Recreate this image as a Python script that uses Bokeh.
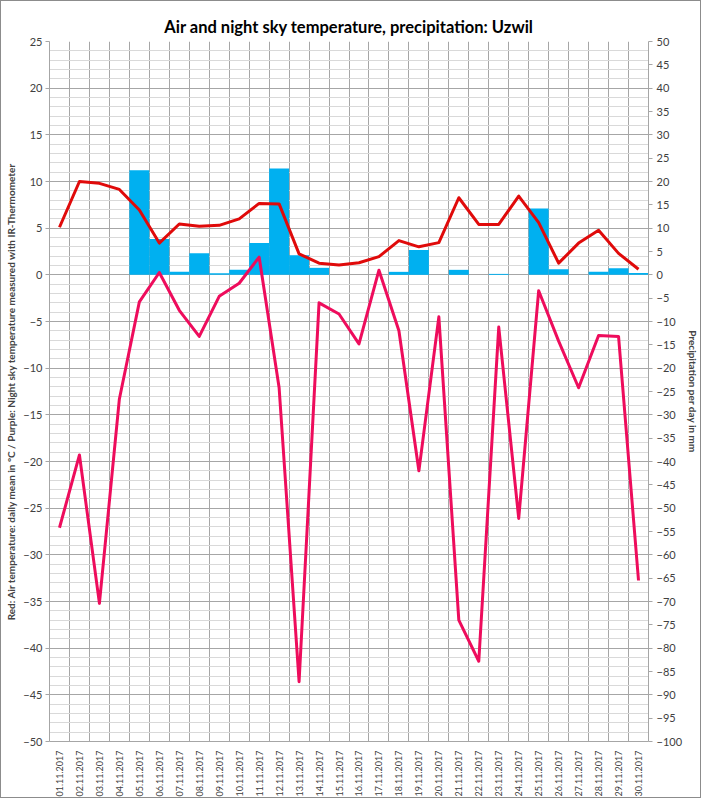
import math
from bokeh.plotting import figure
from bokeh.models import Range1d, LinearAxis, FixedTicker, ColumnDataSource
from bokeh.embed import file_html
from bokeh.resources import INLINE

dates = ["%02d.11.2017" % d for d in range(1, 31)]
air_temp = [5.1, 10.0, 9.8, 9.15, 6.95, 3.4, 5.45, 5.2, 5.3, 6.0,
            7.65, 7.6, 2.25, 1.25, 1.05, 1.3, 1.95, 3.67, 3.0, 3.45,
            8.26, 5.4, 5.4, 8.44, 5.6, 1.25, 3.4, 4.77, 2.3, 0.6]
sky_temp = [-27.1, -19.3, -35.2, -13.3, -2.9, 0.25, -3.8, -6.6, -2.3, -0.9,
            1.9, -12.1, -43.6, -3.0, -4.2, -7.4, 0.5, -6.0, -21.0, -4.5,
            -37.0, -41.4, -5.6, -26.1, -1.7, -7.1, -12.1, -6.5, -6.6, -32.75]
precip = [0, 0, 0, 0, 22.4, 7.7, 0.64, 4.6, 0.35, 1.07,
          6.8, 22.8, 4.2, 1.5, 0, 0, 0, 0.64, 5.3, 0,
          1.07, 0, 0.2, 0, 14.2, 1.2, 0, 0.64, 1.4, 0.4]
left_ticks = list(range(-50, 30, 5))
right_ticks = list(range(-100, 55, 5))

xs = [i + 0.5 for i in range(len(dates))]
src = ColumnDataSource(dict(x=xs, air=air_temp, sky=sky_temp, prec=precip))

FONT = "Lato"
p = figure(width=701, height=798, output_backend="svg", toolbar_location=None,
           x_range=Range1d(0, 30), y_range=Range1d(-50, 25),
           min_border_left=48, min_border_right=53, min_border_top=40, min_border_bottom=56,
           styles={"border": "1px solid #8c8c8c"})
p.title.text = "Air and night sky temperature, precipitation: Uzwil"
p.title.align = "center"
p.title.text_font = FONT
p.title.text_font_size = "16.5px"
p.title.text_font_style = "bold"
p.title.text_color = "#000000"
p.title.offset = 0
p.outline_line_color = None

p.extra_y_ranges = {"prec": Range1d(-100, 50)}

# grids
p.xgrid.ticker = FixedTicker(ticks=list(range(0, 31)))
p.xgrid.grid_line_color = "#a6a6a6"
p.xgrid.grid_line_width = 1
p.ygrid.ticker = FixedTicker(ticks=left_ticks, minor_ticks=list(range(-50, 26)))
p.ygrid.grid_line_color = "#a6a6a6"
p.ygrid.minor_grid_line_color = "#d9d9d9"

# x axis
p.xaxis.ticker = FixedTicker(ticks=xs)
p.xaxis.major_label_overrides = {x: d for x, d in zip(xs, dates)}
p.xaxis.major_label_orientation = math.pi / 2
p.xaxis.major_tick_line_color = None
p.xaxis.minor_tick_line_color = None
p.xaxis.axis_line_color = "#a6a6a6"
p.xaxis.major_label_text_font = FONT
p.xaxis.major_label_text_font_size = "9px"
p.xaxis.major_label_text_color = "#404040"
p.xaxis.major_label_standoff = 3

# left axis
p.yaxis.ticker = FixedTicker(ticks=left_ticks)
p.yaxis.axis_line_color = "#a6a6a6"
p.yaxis.major_tick_line_color = "#a6a6a6"
p.yaxis.major_tick_out = 4
p.yaxis.major_tick_in = 0
p.yaxis.minor_tick_line_color = None
p.yaxis.major_label_text_font = FONT
p.yaxis.major_label_text_font_size = "11px"
p.yaxis.major_label_text_color = "#404040"
p.yaxis.major_label_standoff = 3
p.yaxis.axis_label = "Red: Air temperature: daily mean in °C / Purple: Night sky temperature measured with IR-Thermometer"
p.yaxis.axis_label_text_font = FONT
p.yaxis.axis_label_text_font_size = "10px"
p.yaxis.axis_label_text_font_style = "bold"
p.yaxis.axis_label_standoff = 3

# right axis
ra = LinearAxis(y_range_name="prec", ticker=FixedTicker(ticks=right_ticks))
ra.axis_line_color = "#a6a6a6"
ra.major_tick_line_color = "#a6a6a6"
ra.major_tick_out = 4
ra.major_tick_in = 0
ra.minor_tick_line_color = None
ra.major_label_text_font = FONT
ra.major_label_text_font_size = "11px"
ra.major_label_text_color = "#404040"
ra.major_label_standoff = 4
ra.axis_label = "Precipitation per day in mm"
ra.axis_label_text_font = FONT
ra.axis_label_text_font_size = "10px"
ra.axis_label_text_font_style = "bold"
ra.axis_label_standoff = 2
p.add_layout(ra, "right")

p.vbar(x="x", top="prec", bottom=0, width=1.0, source=src, y_range_name="prec",
       fill_color="#00b0f0", line_color=None)
p.line("x", "air", source=src, line_color="#e00a0a", line_width=3, line_join="round")
p.line("x", "sky", source=src, line_color="#ee0c5c", line_width=3, line_join="round")

open("out.html", "w").write(file_html(p, INLINE))
